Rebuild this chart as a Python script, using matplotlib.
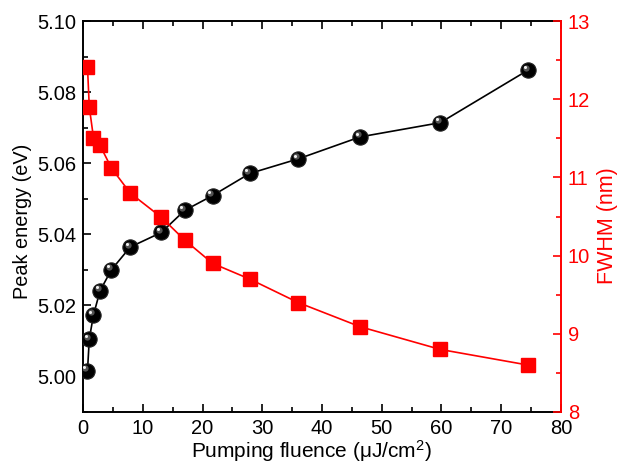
import matplotlib
matplotlib.use('Agg')
import matplotlib.pyplot as plt
import matplotlib.transforms as mtransforms
from matplotlib.ticker import MultipleLocator, FormatStrFormatter

# data
fluence = [0.75, 1.05, 1.75, 2.85, 4.75, 7.9, 13.1, 17.0, 21.7, 27.9, 36.0, 46.4, 59.8, 74.5]
peak_energy = [5.0016, 5.0105, 5.0173, 5.0241, 5.0300, 5.0364, 5.0405, 5.0467, 5.0509,
               5.0571, 5.0612, 5.0674, 5.0714, 5.0862]
fwhm = [12.41, 11.90, 11.51, 11.41, 11.12, 10.80, 10.49, 10.20, 9.90, 9.70, 9.40, 9.09, 8.80, 8.60]

plt.rcParams['font.family'] = ['Liberation Sans', 'DejaVu Sans']
plt.rcParams['mathtext.fontset'] = 'custom'
plt.rcParams['mathtext.rm'] = 'Liberation Sans'
plt.rcParams['mathtext.it'] = 'Liberation Sans:italic'

fig = plt.figure(figsize=(6.27, 4.66), dpi=100)
ax = fig.add_axes([0.1324, 0.1159, 0.7623, 0.839])
ax2 = ax.twinx()

# black "sphere" markers: dark ball + offset highlights
ax.plot(fluence, peak_energy, '-', color='black', lw=1.2, zorder=2)
ax.plot(fluence, peak_energy, 'o', color='black', ms=11, mec='#222222', mew=0.8, zorder=3)
hl1 = mtransforms.offset_copy(ax.transData, fig=fig, x=-1.8, y=1.8, units='points')
hl2 = mtransforms.offset_copy(ax.transData, fig=fig, x=-2.4, y=2.4, units='points')
ax.plot(fluence, peak_energy, 'o', color='#6a6a6a', ms=4.5, mew=0, alpha=0.8, transform=hl1, zorder=4)
ax.plot(fluence, peak_energy, 'o', color='#f0f0f0', ms=2.2, mew=0, transform=hl2, zorder=5)

ax2.plot(fluence, fwhm, 's-', color='red', lw=1.2, ms=9.5, mec='red', zorder=3)

ax.set_xlim(0, 80)
ax.set_ylim(4.99, 5.10)
ax2.set_ylim(8, 13)

ax.xaxis.set_major_locator(MultipleLocator(10))
ax.xaxis.set_minor_locator(MultipleLocator(5))
ax.yaxis.set_major_locator(MultipleLocator(0.02))
ax.yaxis.set_minor_locator(MultipleLocator(0.01))
ax2.yaxis.set_major_locator(MultipleLocator(1))
ax2.yaxis.set_minor_locator(MultipleLocator(0.5))
ax.yaxis.set_major_formatter(FormatStrFormatter('%.2f'))

ax.tick_params(axis='both', which='both', direction='in', top=True, labelsize=14.5, width=1.2, pad=5)
ax.tick_params(axis='y', which='both', right=False)
ax.tick_params(which='major', length=6)
ax.tick_params(which='minor', length=3.5)
ax2.tick_params(axis='y', which='both', direction='in', colors='red', labelsize=14.5, width=1.2, pad=5)
ax2.tick_params(which='major', length=6)
ax2.tick_params(which='minor', length=3.5)

for s in ['left', 'bottom', 'top']:
    ax.spines[s].set_linewidth(1.4)
    ax2.spines[s].set_visible(False)
ax.spines['right'].set_visible(False)
ax2.spines['right'].set_color('red')
ax2.spines['right'].set_linewidth(1.4)

ax.set_xlabel(r'Pumping fluence ($\mathrm{\mu}$J/cm$^2$)', fontsize=15)
ax.xaxis.set_label_coords(0.477, -0.066)
ax.set_ylabel('Peak energy (eV)', fontsize=14.3)
ax.yaxis.set_label_coords(-0.107, 0.487)
ax2.set_ylabel('FWHM (nm)', fontsize=15.5, color='red')
ax2.yaxis.set_label_coords(1.075, 0.476)

fig.savefig('out.png', dpi=100)
